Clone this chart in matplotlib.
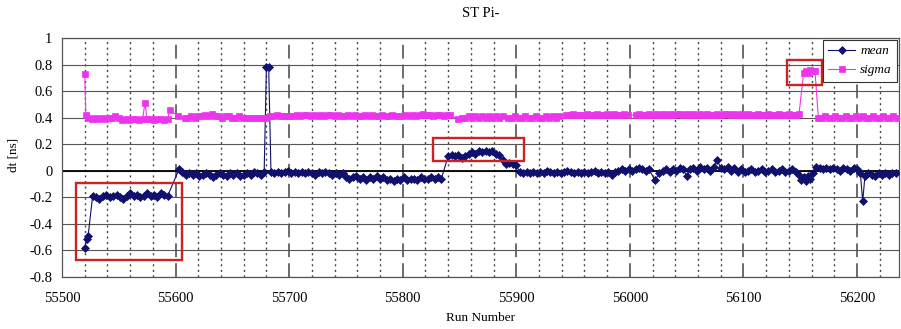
import matplotlib
matplotlib.use("Agg")
import matplotlib.pyplot as plt
from matplotlib.patches import Rectangle
from matplotlib.ticker import MultipleLocator, FuncFormatter

plt.rcParams['font.family'] = ['Liberation Serif', 'DejaVu Serif']
plt.rcParams['axes.unicode_minus'] = False

# mean: run number / dt [ns]
mean_runs = [
    55520, 55522, 55523, 55527, 55530, 55533, 55536, 55539, 55542, 55545,
    55548, 55551, 55554, 55557, 55560, 55563, 55566, 55569, 55572, 55575,
    55578, 55581, 55584, 55587, 55590, 55593,
    55603, 55606, 55609, 55612, 55615, 55618, 55621, 55624, 55627, 55630,
    55633, 55636, 55639, 55642, 55645, 55648, 55651, 55654, 55657, 55660,
    55663, 55666, 55669, 55672, 55675, 55678, 55680, 55682, 55684, 55687,
    55690, 55693, 55696, 55699, 55702, 55705, 55708, 55711, 55714, 55717,
    55720, 55723, 55726, 55729, 55732, 55735, 55738, 55741, 55744, 55747,
    55750, 55753, 55756, 55759, 55762, 55765, 55768, 55771, 55774, 55777,
    55780, 55783, 55786, 55789, 55792, 55795, 55798, 55801, 55804, 55807,
    55810, 55813, 55816, 55819, 55822, 55825, 55828, 55831, 55834,
    55840, 55843, 55846, 55849, 55852, 55855, 55858, 55861, 55864, 55867,
    55870, 55873, 55876, 55879, 55882, 55885, 55888, 55891, 55894, 55897,
    55900,
    55903, 55906, 55909, 55912, 55915, 55918, 55921, 55924, 55927, 55930,
    55933, 55936, 55939, 55942, 55945, 55948, 55951, 55954, 55957, 55960,
    55963, 55966, 55969, 55972, 55975, 55978, 55981, 55984, 55987, 55990,
    55993, 55996, 55999, 56002, 56005, 56008, 56011, 56014, 56017, 56022,
    56026, 56029, 56032, 56035, 56038, 56041, 56044, 56047, 56050, 56053,
    56056, 56059, 56062, 56065, 56068, 56071, 56074, 56077, 56080, 56083,
    56086, 56089, 56092, 56095, 56098, 56101, 56104, 56107, 56110, 56113,
    56116, 56119, 56122, 56125, 56128, 56131, 56134, 56137, 56140, 56143,
    56146, 56149, 56151, 56153, 56155, 56157, 56159, 56161, 56164, 56167,
    56170, 56173, 56176, 56179, 56182, 56185, 56188, 56191, 56194, 56197,
    56200, 56203, 56205, 56207, 56210, 56213, 56216, 56219, 56222, 56225,
    56228, 56231, 56234,
]
mean_vals = [
    -0.58, -0.51, -0.49, -0.19, -0.20, -0.21, -0.19, -0.18, -0.20, -0.19,
    -0.18, -0.20, -0.21, -0.19, -0.17, -0.19, -0.18, -0.20, -0.19, -0.17,
    -0.19, -0.18, -0.20, -0.17, -0.18, -0.19,
    0.01, -0.01, -0.03, -0.02, -0.03, -0.02, -0.04, -0.03, -0.02, -0.03,
    -0.05, -0.03, -0.02, -0.03, -0.04, -0.02, -0.03, -0.02, -0.04, -0.03,
    -0.02, -0.03, -0.01, -0.02, -0.03, -0.01, 0.78, 0.78, -0.01, -0.02,
    -0.01, -0.02, -0.01, 0.00, -0.02, -0.01, -0.02, -0.01, -0.02, -0.01,
    -0.02, -0.03, -0.01, -0.02, -0.01, -0.02, -0.03, -0.02, -0.03, -0.02,
    -0.05, -0.06, -0.05, -0.04, -0.06, -0.05, -0.07, -0.05, -0.06, -0.04,
    -0.06, -0.05, -0.07, -0.06, -0.08, -0.06, -0.07, -0.05, -0.07, -0.06,
    -0.06, -0.07, -0.05, -0.06, -0.06, -0.05, -0.06, -0.05, -0.06,
    0.11, 0.12, 0.11, 0.12, 0.10, 0.11, 0.13, 0.14, 0.13, 0.15,
    0.14, 0.15, 0.14, 0.15, 0.13, 0.12, 0.08, 0.05, 0.06, 0.05,
    0.04,
    -0.01, -0.02, -0.01, -0.02, -0.01, -0.02, -0.01, -0.02, 0.00, -0.01,
    -0.02, -0.01, -0.02, -0.01, 0.00, -0.01, -0.02, -0.01, -0.02, -0.01,
    -0.02, -0.01, 0.00, -0.02, -0.01, -0.02, -0.01, -0.03, -0.01, 0.00,
    0.01, 0.00, 0.01, 0.00, 0.01, 0.02, 0.01, 0.00, 0.01, -0.07,
    -0.02, 0.00, 0.01, -0.01, 0.01, 0.00, 0.02, 0.01, -0.04, 0.01,
    0.02, 0.00, 0.03, 0.01, 0.02, 0.00, 0.03, 0.08, 0.02, 0.01,
    0.03, 0.00, 0.02, -0.01, 0.01, -0.01, 0.00, 0.01, -0.01, 0.00,
    0.01, -0.01, 0.00, 0.01, -0.01, 0.00, 0.01, -0.01, 0.00, 0.01,
    -0.01, -0.03, -0.07, -0.05, -0.08, -0.04, -0.06, -0.02, 0.03, 0.02,
    0.01, 0.02, 0.01, 0.02, 0.01, 0.00, 0.02, 0.01, 0.00, 0.02,
    0.01, -0.02, -0.23, -0.04, -0.02, -0.03, -0.04, -0.02, -0.03, -0.02,
    -0.03, -0.02, -0.02,
]

# sigma: run number / width [ns]
sigma_runs = [
    55520, 55521, 55523, 55526, 55529, 55532, 55535, 55538, 55541, 55544,
    55547, 55550, 55553, 55556, 55559, 55562, 55565, 55568, 55571, 55573,
    55575, 55578, 55581, 55584, 55587, 55590, 55593, 55595,
    55602, 55608, 55611, 55614, 55617, 55620, 55623, 55626, 55629, 55632,
    55635, 55638, 55641, 55644, 55647, 55650, 55653, 55656, 55659, 55662,
    55665, 55668, 55671, 55674, 55677, 55680, 55683, 55686, 55689, 55692,
    55695, 55698, 55701, 55704, 55707, 55710, 55713, 55716, 55719, 55722,
    55725, 55728, 55731, 55734, 55737, 55740, 55743, 55746, 55749, 55752,
    55755, 55758, 55761, 55764, 55767, 55770, 55773, 55776, 55779, 55782,
    55785, 55788, 55791, 55794, 55797, 55800, 55803, 55806, 55809, 55812,
    55815, 55818, 55821, 55824, 55827, 55830, 55833, 55836, 55839, 55842,
    55849, 55852, 55855, 55858, 55861, 55864, 55867, 55870, 55873, 55876,
    55879, 55882, 55885, 55888,
    55893, 55896, 55899, 55902, 55905, 55908, 55911, 55914, 55917, 55920,
    55923, 55926, 55929, 55932, 55935, 55938,
    55944, 55947, 55950, 55953, 55956, 55959, 55962, 55965, 55968, 55971,
    55974, 55977, 55980, 55983, 55986, 55989, 55992, 55995, 55998,
    56005, 56008, 56011, 56014, 56017, 56020, 56023, 56026, 56029, 56032,
    56035, 56038, 56041, 56044, 56047, 56050, 56053, 56056, 56059, 56062,
    56065, 56068, 56071, 56074, 56077, 56080, 56083, 56086, 56089, 56092,
    56095, 56098, 56101, 56104, 56107, 56110, 56113, 56116, 56119, 56122,
    56125, 56128, 56131, 56134, 56137, 56140, 56143, 56146, 56149,
    56153, 56155, 56157, 56159, 56161, 56163,
    56166, 56169, 56172, 56175, 56178, 56181, 56184, 56187, 56190, 56193,
    56196, 56199, 56202, 56205, 56208, 56211, 56214, 56217, 56220, 56223,
    56226, 56229, 56232, 56235,
]
sigma_vals = [
    0.73, 0.42, 0.40, 0.39, 0.40, 0.39, 0.40, 0.39, 0.40, 0.40,
    0.41, 0.40, 0.38, 0.39, 0.38, 0.39, 0.39, 0.38, 0.39, 0.51,
    0.39, 0.39, 0.38, 0.39, 0.39, 0.38, 0.39, 0.46,
    0.41, 0.40, 0.40, 0.41, 0.40, 0.41, 0.41, 0.42, 0.41, 0.43,
    0.41, 0.41, 0.40, 0.41, 0.41, 0.40, 0.40, 0.41, 0.40, 0.40,
    0.40, 0.40, 0.40, 0.40, 0.40, 0.40, 0.41, 0.41, 0.42, 0.41,
    0.41, 0.41, 0.41, 0.41, 0.42, 0.41, 0.42, 0.42, 0.41, 0.42,
    0.41, 0.42, 0.41, 0.42, 0.42, 0.41, 0.42, 0.41, 0.41, 0.42,
    0.41, 0.42, 0.41, 0.41, 0.42, 0.41, 0.42, 0.41, 0.41, 0.42,
    0.41, 0.41, 0.42, 0.41, 0.41, 0.41, 0.42, 0.41, 0.42, 0.41,
    0.42, 0.43, 0.42, 0.42, 0.41, 0.42, 0.42, 0.41, 0.42, 0.42,
    0.39, 0.40, 0.40, 0.41, 0.40, 0.41, 0.40, 0.41, 0.40, 0.41,
    0.40, 0.41, 0.40, 0.41,
    0.40, 0.40, 0.41, 0.40, 0.40, 0.41, 0.40, 0.40, 0.41, 0.40,
    0.40, 0.41, 0.40, 0.41, 0.40, 0.41,
    0.42, 0.42, 0.43, 0.42, 0.42, 0.42, 0.43, 0.42, 0.42, 0.43,
    0.42, 0.42, 0.43, 0.42, 0.43, 0.42, 0.42, 0.43, 0.42,
    0.42, 0.43, 0.42, 0.42, 0.43, 0.42, 0.43, 0.42, 0.43, 0.42,
    0.43, 0.42, 0.43, 0.43, 0.42, 0.43, 0.42, 0.43, 0.42, 0.43,
    0.42, 0.43, 0.42, 0.42, 0.43, 0.42, 0.43, 0.43, 0.42, 0.43,
    0.42, 0.43, 0.42, 0.43, 0.42, 0.42, 0.43, 0.42, 0.42, 0.43,
    0.42, 0.42, 0.43, 0.42, 0.42, 0.43, 0.42, 0.42, 0.43,
    0.74, 0.75, 0.74, 0.76, 0.75, 0.75,
    0.40, 0.40, 0.41, 0.40, 0.40, 0.41, 0.40, 0.40, 0.41, 0.40,
    0.40, 0.41, 0.40, 0.41, 0.40, 0.40, 0.41, 0.40, 0.40, 0.41,
    0.40, 0.40, 0.41, 0.40,
]

# red boxes: (run start, run end, dt low, dt high)
boxes = [
    (55512, 55606, -0.67, -0.09),
    (55827, 55907, 0.07, 0.244),
    (56138, 56169, 0.645, 0.834),
]

fig = plt.figure(figsize=(9.01, 3.29), dpi=100)
ax = fig.add_axes([0.0688, 0.158, 0.9290, 0.7265])

ax.set_xlim(55500, 56237)
ax.set_ylim(-0.8, 1.0)

ax.xaxis.set_major_locator(MultipleLocator(100))
ax.xaxis.set_minor_locator(MultipleLocator(20))
ax.yaxis.set_major_locator(MultipleLocator(0.2))
ax.yaxis.set_major_formatter(FuncFormatter(lambda v, p: '%g' % round(v, 1)))

ax.grid(which='major', axis='y', color='#555555', linewidth=0.8)
ax.grid(which='minor', axis='x', color='#444444', linewidth=1.0, linestyle=(0, (1.5, 2.5)))
ax.grid(which='major', axis='x', color='#444444', linewidth=1.1, linestyle=(0, (9, 4)))
ax.axhline(0, color='black', linewidth=1.3, zorder=1)
ax.set_axisbelow(True)

ax.tick_params(which='both', length=0, labelsize=10.5)
ax.tick_params(axis='x', pad=11)
ax.tick_params(axis='y', pad=7)
for s in ax.spines.values():
    s.set_color('#555555')
    s.set_linewidth(0.9)

ax.plot(mean_runs, mean_vals, color='#10106e', linewidth=0.8, marker='D',
        markersize=4.0, markeredgewidth=0.5, label='mean', zorder=3)
ax.plot(sigma_runs, sigma_vals, color='#ee33ee', linewidth=0.8, marker='s',
        markersize=4.0, markeredgewidth=0.5, label='sigma', zorder=3)

for x0, x1, y0, y1 in boxes:
    ax.add_patch(Rectangle((x0, y0), x1 - x0, y1 - y0, fill=False,
                           edgecolor='#cc2222', linewidth=1.7, zorder=4))

leg = ax.legend(loc='upper right', bbox_to_anchor=(1.0, 1.0), borderaxespad=0.15,
                fancybox=False, framealpha=1, edgecolor='#333333',
                prop={'style': 'italic', 'size': 9.5},
                handlelength=2.0, borderpad=0.4, labelspacing=0.5, handletextpad=0.4)
leg.get_frame().set_linewidth(0.8)

ax.set_title('ST Pi-', fontsize=10.5, pad=15)
fig.text(480 / 901, 1 - 318 / 329, 'Run Number', fontsize=9.5, ha='center', va='center')
fig.text(13 / 901, 1 - 155 / 329, 'dt [ns]', fontsize=9.5, ha='center', va='center',
         rotation=90)

fig.savefig('out.png', dpi=100)
